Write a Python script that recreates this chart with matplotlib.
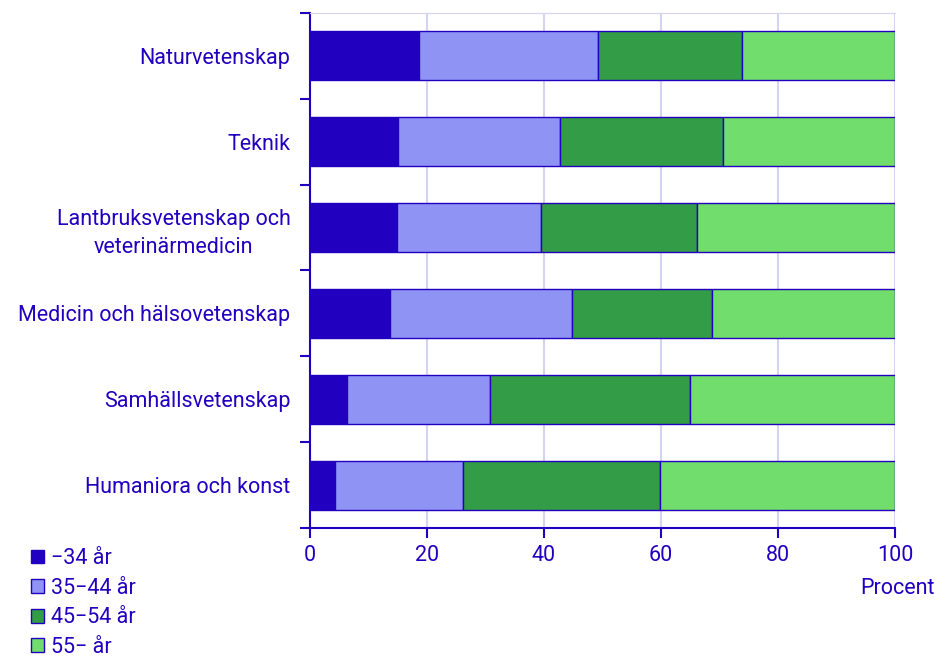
import numpy as np
import matplotlib.pyplot as plt
from matplotlib.patches import Patch

plt.rcParams['font.family'] = ['Roboto', 'DejaVu Sans']

# DATA (percent per age group)
categories = ['Naturvetenskap', 'Teknik', 'Lantbruksvetenskap och\nveterinärmedicin',
              'Medicin och hälsovetenskap', 'Samhällsvetenskap', 'Humaniora och konst']
age_groups = ['\u221234 år', '35\u221244 år', '45\u221254 år', '55\u2212 år']
under_35 = [18.6, 15.1, 14.9, 13.6, 6.4, 4.2]
age_35_44 = [30.7, 27.6, 24.6, 31.2, 24.3, 22.0]
age_45_54 = [24.6, 27.9, 26.7, 24.0, 34.2, 33.6]
over_55 = [26.1, 29.4, 33.8, 31.2, 35.1, 40.2]

colors = ['#2200C0', '#8F94F4', '#339C47', '#70DD6C']
txt = '#2200C0'
grid = '#D4D4F2'
fs = 15.5

fig = plt.figure(figsize=(9.43, 6.57), dpi=100)
ax = fig.add_axes([310 / 943, 1 - 528 / 657, 585 / 943, 515 / 657])

y = np.arange(len(categories))
left = np.zeros(len(categories))
for vals, c in zip([under_35, age_35_44, age_45_54, over_55], colors):
    ax.barh(y, vals, left=left, height=0.57, color=c, edgecolor=txt, linewidth=1, zorder=3)
    left += np.array(vals)

ax.set_xlim(0, 100)
ax.set_ylim(len(categories) - 0.5, -0.5)
ax.set_xticks([0, 20, 40, 60, 80, 100])
ax.set_yticks(y)
ax.set_yticklabels(categories, linespacing=1.45)
ax.set_yticks(np.arange(-0.5, len(categories)), minor=True)
ax.tick_params(axis='y', which='major', length=0, pad=14, labelsize=fs, labelcolor=txt)
ax.tick_params(axis='y', which='minor', length=7, width=1.5, color=txt)
ax.tick_params(axis='x', length=7, width=1.5, color=txt, labelsize=fs, labelcolor=txt, pad=5)
for lab in ax.get_yticklabels():
    lab.set_horizontalalignment('right')
    lab.set_multialignment('center')

ax.grid(axis='x', color=grid, linewidth=1.5, zorder=0)
ax.spines['left'].set_color(txt)
ax.spines['left'].set_linewidth(1.5)
ax.spines['bottom'].set_color(txt)
ax.spines['bottom'].set_linewidth(1.5)
ax.spines['top'].set_color(grid)
ax.spines['right'].set_visible(False)

ax.text(1.005, -0.098, 'Procent', transform=ax.transAxes, ha='center', va='top',
        fontsize=fs, color=txt)

handles = [Patch(facecolor=c, edgecolor=txt, linewidth=1) for c in colors]
leg = fig.legend(handles, age_groups, loc='lower left', bbox_to_anchor=(0.019, -0.021),
                 frameon=False, fontsize=fs, handlelength=0.6, handleheight=0.6,
                 handletextpad=0.35, labelspacing=0.4, borderaxespad=0.2)
for t in leg.get_texts():
    t.set_color(txt)

fig.savefig('out.png', dpi=100)
